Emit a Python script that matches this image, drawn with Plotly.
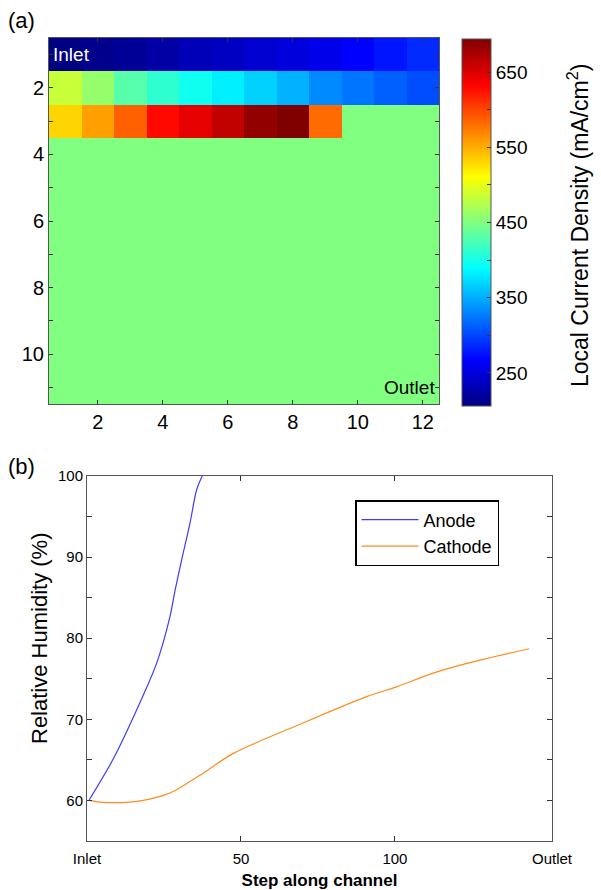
import plotly.graph_objects as go

# ---------------- data ----------------
cols = list(range(1, 13))
rows = list(range(1, 12))
row1 = [207, 212, 217, 224, 233, 238, 245, 250, 257, 267, 277, 287]
row2 = [484, 460, 430, 411, 396, 382, 367, 352, 333, 323, 313, 304]
row3 = [531, 557, 587, 629, 645, 663, 685, 694, 582, 450, 450, 450]
fill_row = [450] * 12
z = [row1, row2, row3] + [fill_row for _ in range(8)]
zmin, zmax = 206, 694
cb_ticks = [250, 300, 350, 400, 450, 500, 550, 600, 650]
cb_text = ["250", "", "350", "", "450", "", "550", "", "650"]

anode_x = [0.6, 8.5, 18.3, 22.6, 26.9, 28.6, 30.7, 33.4, 35.6, 37.4]
anode_y = [60.0, 65.1, 73.0, 76.9, 82.6, 85.9, 89.6, 94.1, 98.3, 100.0]
cath_x = [0.6, 4.2, 14.0, 18.3, 23.7, 28.0, 32.4, 36.7, 47.5, 69.2, 90.8, 100.5, 112.4, 127.6, 143.6]
cath_y = [60.0, 59.8, 59.8, 60.0, 60.5, 61.1, 62.1, 63.1, 65.8, 69.4, 72.8, 74.0, 75.7, 77.3, 78.7]
xb_ticks = [0, 50, 100, 151]
xb_text = ["Inlet", "50", "100", "Outlet"]

W, H = 601, 890
FONT = "Arial, Liberation Sans, sans-serif"

jet = [[0.0, "rgb(0,0,128)"], [0.125, "rgb(0,0,255)"], [0.375, "rgb(0,255,255)"],
       [0.625, "rgb(255,255,0)"], [0.875, "rgb(255,0,0)"], [1.0, "rgb(128,0,0)"]]

def px(x):
    return x / W

def py(y):
    return 1 - y / H

fig = go.Figure()
fig.add_trace(go.Heatmap(
    z=z, x=cols, y=rows, colorscale=jet, zmin=zmin, zmax=zmax,
    xaxis="x", yaxis="y",
    colorbar=dict(
        x=px(462), xanchor="left", y=py(39), yanchor="top",
        len=(406 - 39) / H, lenmode="fraction", thickness=29, thicknessmode="pixels",
        outlinecolor="#555", outlinewidth=1, xpad=0, ypad=0,
        tickvals=cb_ticks, ticktext=cb_text, ticks="inside", ticklen=4, tickcolor="#333",
        tickfont=dict(family=FONT, size=19, color="black"),
    ),
    showscale=True,
))

fig.add_trace(go.Scatter(x=anode_x, y=anode_y, mode="lines", name="Anode",
                         line=dict(color="rgb(60,60,255)", width=1.2, shape="spline", smoothing=0.8),
                         xaxis="x2", yaxis="y2"))
fig.add_trace(go.Scatter(x=cath_x, y=cath_y, mode="lines", name="Cathode",
                         line=dict(color="rgb(255,140,30)", width=1.2, shape="spline", smoothing=0.8),
                         xaxis="x2", yaxis="y2"))

axcommon = dict(showline=True, linecolor="#555", linewidth=1, mirror="ticks", ticks="inside",
                tickcolor="#333", showgrid=False, zeroline=False, automargin=False)

fig.update_layout(
    width=W, height=H, margin=dict(l=0, r=0, t=0, b=0, autoexpand=False),
    paper_bgcolor="white", plot_bgcolor="white", showlegend=True,
    font=dict(family=FONT, color="black"),
    xaxis=dict(domain=[px(49), px(439)], range=[0.5, 12.5], tickvals=[2, 4, 6, 8, 10, 12],
               ticklen=4, tickfont=dict(size=20), anchor="y", **axcommon),
    yaxis=dict(domain=[py(404), py(38)], range=[11.5, 0.5], tickvals=rows,
               ticktext=["" if r % 2 else str(r) for r in rows],
               ticklen=4, tickfont=dict(size=20), anchor="x", **axcommon),
    xaxis2=dict(domain=[px(87), px(552)], range=[0, 151], tickvals=xb_ticks, ticktext=xb_text,
                ticklen=5, tickfont=dict(size=15), anchor="y2", ticklabelstandoff=4,
                title=dict(text="<b>Step along channel</b>", font=dict(size=17), standoff=8),
                **axcommon),
    yaxis2=dict(domain=[py(841), py(476)], range=[55, 100],
                tickvals=[55, 60, 65, 70, 75, 80, 85, 90, 95, 100],
                ticktext=["", "60", "", "70", "", "80", "", "90", "", "100"],
                ticklen=5, tickfont=dict(size=15), anchor="x2",
                **axcommon),
    legend=dict(x=px(355), y=py(500), xanchor="left", yanchor="top",
                bordercolor="black", borderwidth=1.5, bgcolor="white",
                font=dict(size=18), itemwidth=57, tracegroupgap=0),
    annotations=[
        dict(text="(a)", x=px(6), y=py(20), xref="paper", yref="paper", xanchor="left",
             yanchor="middle", showarrow=False, font=dict(size=22)),
        dict(text="(b)", x=px(6), y=py(466), xref="paper", yref="paper", xanchor="left",
             yanchor="middle", showarrow=False, font=dict(size=22)),
        dict(text="Inlet", x=0.55, y=1, xref="x", yref="y", xanchor="left", yanchor="middle",
             showarrow=False, font=dict(size=19, color="white")),
        dict(text="Outlet", x=12.45, y=11, xref="x", yref="y", xanchor="right", yanchor="middle",
             showarrow=False, font=dict(size=19, color="black")),
        dict(text="Local Current Density (mA/cm<sup>2</sup>)", x=px(578), y=py(226),
             xref="paper", yref="paper", xanchor="center", yanchor="middle", textangle=-90,
             showarrow=False, font=dict(size=23, color="black")),
        dict(text="Relative Humidity (%)", x=px(39), y=py(638),
             xref="paper", yref="paper", xanchor="center", yanchor="middle", textangle=-90,
             showarrow=False, font=dict(size=22, color="black")),
    ],
)

fig.write_html("out.html", config={"displayModeBar": False},
               post_script="document.body.style.margin='0px';")
